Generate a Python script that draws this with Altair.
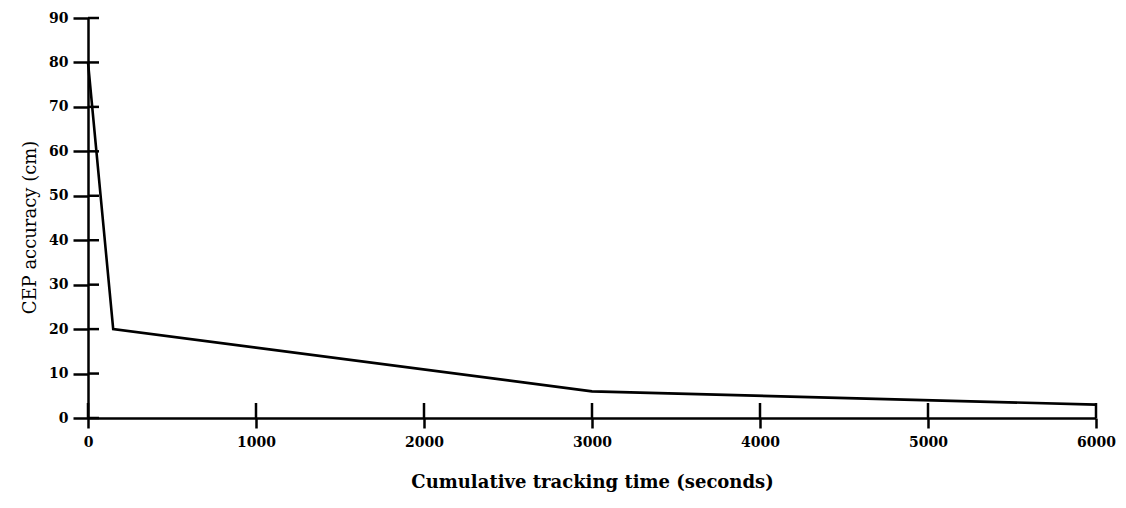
import altair as alt
import pandas as pd

# Cumulative tracking time (s) vs CEP accuracy (cm)
times = [0, 150, 3000, 6000]
cep = [80, 20, 6, 3]

x_ticks = [0, 1000, 2000, 3000, 4000, 5000, 6000]
y_ticks = [0, 10, 20, 30, 40, 50, 60, 70, 80, 90]

df = pd.DataFrame({"t": times, "cep": cep})
xt = pd.DataFrame({"t": x_ticks})
yt = pd.DataFrame({"cep": y_ticks})

FONT = "DejaVu Serif"
W, H = 1008, 400

xscale = alt.Scale(domain=[0, 6000], nice=False, zero=False)
yscale = alt.Scale(domain=[0, 90], nice=False, zero=False)

x_axis = alt.Axis(
    title="Cumulative tracking time (seconds)",
    values=x_ticks,
    format="d",
    grid=False,
    domainColor="black",
    domainWidth=2.5,
    tickColor="black",
    tickWidth=2.5,
    tickSize=10,
    labelPadding=7,
    labelFont=FONT,
    labelFontSize=14,
    labelFontWeight="bold",
    labelColor="black",
    labelFlush=False,
    titleFont=FONT,
    titleFontSize=18,
    titleFontWeight="bold",
    titleColor="black",
    titlePadding=24,
)
y_axis = alt.Axis(
    title="CEP accuracy (cm)",
    values=y_ticks,
    grid=False,
    domainColor="black",
    domainWidth=2.5,
    tickColor="black",
    tickWidth=2.5,
    tickSize=15,
    labelPadding=5,
    labelFont=FONT,
    labelFontSize=14,
    labelFontWeight="bold",
    labelColor="black",
    labelFlush=False,
    titleFont=FONT,
    titleFontSize=18,
    titleFontWeight="normal",
    titleColor="black",
    titlePadding=9,
    titleY=209,
)

line = alt.Chart(df).mark_line(color="black", strokeWidth=2.6, clip=False).encode(
    x=alt.X("t:Q", scale=xscale, axis=x_axis),
    y=alt.Y("cep:Q", scale=yscale, axis=y_axis),
)

# inner halves of the crossing tick marks
x_inner = alt.Chart(xt).mark_rule(color="black", strokeWidth=2.5).encode(
    x=alt.X("t:Q", scale=xscale, axis=x_axis),
    y=alt.value(H),
    y2=alt.value(H - 15),
)
y_inner = alt.Chart(yt).mark_rule(color="black", strokeWidth=2.5).encode(
    y=alt.Y("cep:Q", scale=yscale, axis=y_axis),
    x=alt.value(0),
    x2=alt.value(11),
)

chart = (
    alt.layer(line, x_inner, y_inner)
    .properties(
        width=W,
        height=H,
        background="white",
        autosize=alt.AutoSizeParams(type="none"),
        padding={"left": 88, "top": 18, "right": 30, "bottom": 90},
    )
    .configure_view(strokeOpacity=0, strokeWidth=0)
)

chart.save("out.html", embed_options={"renderer": "svg", "actions": False})
